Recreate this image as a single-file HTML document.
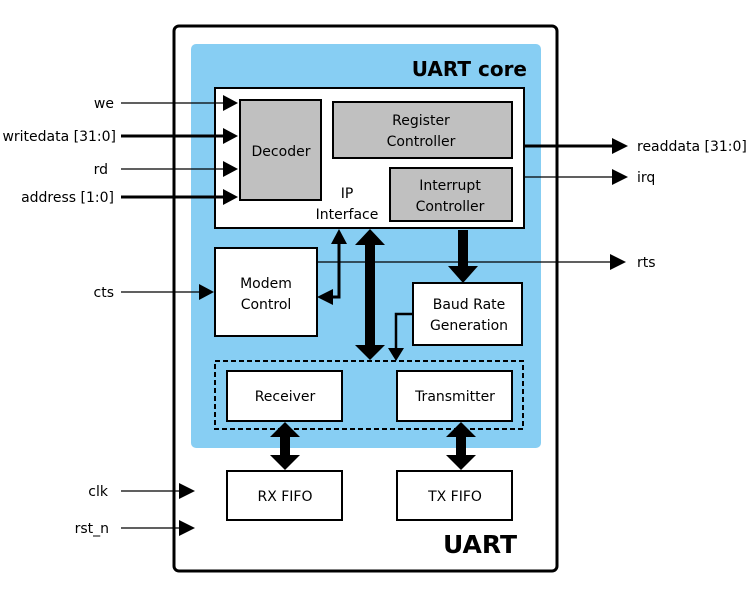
<!DOCTYPE html>
<html><head><style>body{margin:0;background:#fff}svg text{font-family:"DejaVu Sans","Liberation Sans",sans-serif;fill:#000;font-size:14px}svg .b{font-weight:bold}</style></head>
<body>
<svg width="748" height="596" viewBox="0 0 748 596" xmlns="http://www.w3.org/2000/svg">
<rect x="174" y="26" width="383" height="545" rx="5" fill="#fff" stroke="#000" stroke-width="3"/>
<rect x="191" y="44" width="350" height="404" rx="5" fill="#87CEF3"/>
<text x="527" y="76" class="b" style="font-size:20px" text-anchor="end">UART core</text>
<text x="517" y="553" class="b" style="font-size:25px" text-anchor="end">UART</text>
<rect x="215" y="88" width="309" height="140" fill="#fff" stroke="#000" stroke-width="2"/>
<rect x="240" y="100" width="81" height="100" fill="#c0c0c0" stroke="#000" stroke-width="2"/>
<rect x="333" y="102" width="179" height="56" fill="#c0c0c0" stroke="#000" stroke-width="2"/>
<rect x="390" y="168" width="122" height="53" fill="#c0c0c0" stroke="#000" stroke-width="2"/>
<g text-anchor="middle">
<text x="281" y="156">Decoder</text>
<text x="421" y="125">Register</text><text x="421" y="146">Controller</text>
<text x="450" y="190">Interrupt</text><text x="450" y="211">Controller</text>
<text x="347" y="198">IP</text><text x="347" y="219">Interface</text>
</g>
<rect x="215" y="248" width="102" height="88" fill="#fff" stroke="#000" stroke-width="2"/>
<rect x="413" y="283" width="109" height="62" fill="#fff" stroke="#000" stroke-width="2"/>
<rect x="215" y="361" width="308" height="68" fill="none" stroke="#000" stroke-width="2" stroke-dasharray="5,3"/>
<rect x="227" y="371" width="115" height="50" fill="#fff" stroke="#000" stroke-width="2"/>
<rect x="397" y="371" width="115" height="50" fill="#fff" stroke="#000" stroke-width="2"/>
<rect x="227" y="471" width="115" height="49" fill="#fff" stroke="#000" stroke-width="2"/>
<rect x="397" y="471" width="115" height="49" fill="#fff" stroke="#000" stroke-width="2"/>
<g text-anchor="middle">
<text x="266" y="288">Modem</text><text x="266" y="309">Control</text>
<text x="469" y="309">Baud Rate</text><text x="469" y="330">Generation</text>
<text x="285" y="401">Receiver</text><text x="455" y="401">Transmitter</text>
<text x="285" y="501">RX FIFO</text><text x="455" y="501">TX FIFO</text>
</g>
<g stroke="#000">
<line x1="121" y1="103" x2="225" y2="103" stroke-width="1.2"/>
<line x1="121" y1="136" x2="225" y2="136" stroke-width="3"/>
<line x1="121" y1="169" x2="225" y2="169" stroke-width="1.2"/>
<line x1="121" y1="197" x2="225" y2="197" stroke-width="3"/>
<line x1="121" y1="292" x2="200" y2="292" stroke-width="1.2"/>
<line x1="121" y1="491" x2="182" y2="491" stroke-width="1.2"/>
<line x1="121" y1="528" x2="182" y2="528" stroke-width="1.2"/>
<line x1="524" y1="146" x2="614" y2="146" stroke-width="3"/>
<line x1="524" y1="177" x2="614" y2="177" stroke-width="1.2"/>
<line x1="317" y1="262" x2="612" y2="262" stroke-width="1.2"/>
</g>
<g fill="#000">
<polygon points="223,95 238,103 223,111"/>
<polygon points="223,128 238,136 223,144"/>
<polygon points="223,161 238,169 223,177"/>
<polygon points="223,189 238,197 223,205"/>
<polygon points="199,284 214,292 199,300"/>
<polygon points="179,483 195,491 179,499"/>
<polygon points="179,520 195,528 179,536"/>
<polygon points="612,138 628,146 612,154"/>
<polygon points="612,169 628,177 612,185"/>
<polygon points="610,254 626,262 610,270"/>
</g>
<g text-anchor="end">
<text x="114" y="108">we</text><text x="116" y="141">writedata [31:0]</text>
<text x="108" y="174">rd</text><text x="114" y="202">address [1:0]</text>
<text x="114" y="297">cts</text><text x="108" y="496">clk</text><text x="109" y="533">rst_n</text>
</g>
<text x="637" y="151">readdata [31:0]</text><text x="637" y="182">irq</text><text x="637" y="267">rts</text>
<polyline points="339,243 339,297 330,297" fill="none" stroke="#000" stroke-width="3"/>
<polygon points="339,229 331,244 347,244" fill="#000"/>
<polygon points="317,297 333,289 333,305" fill="#000"/>
<rect x="365" y="243" width="10" height="104" fill="#000"/>
<polygon points="370,229 355,245 385,245" fill="#000"/>
<polygon points="370,360 355,345 385,345" fill="#000"/>
<rect x="458" y="230" width="10" height="38" fill="#000"/>
<polygon points="448,266 478,266 463,283" fill="#000"/>
<polyline points="413,314 396,314 396,350" fill="none" stroke="#000" stroke-width="2.5"/>
<polygon points="388,348 404,348 396,361" fill="#000"/>
<rect x="280" y="435" width="10" height="22" fill="#000"/>
<polygon points="285,422 270,437 300,437" fill="#000"/>
<polygon points="285,470 270,455 300,455" fill="#000"/>
<rect x="456" y="435" width="10" height="22" fill="#000"/>
<polygon points="461,422 446,437 476,437" fill="#000"/>
<polygon points="461,470 446,455 476,455" fill="#000"/>
</svg>
</body></html>
